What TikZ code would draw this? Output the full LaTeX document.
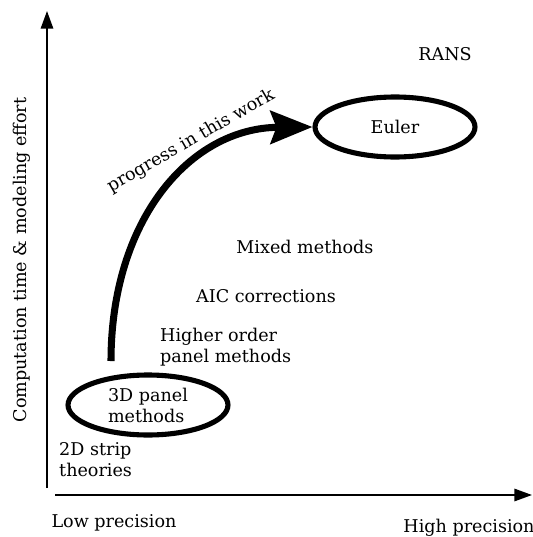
\documentclass[tikz,border=0pt]{standalone}
\usepackage{fontspec}
\setmainfont{DejaVu Serif}
\usetikzlibrary{shapes.geometric, arrows.meta}

\tikzset{
    axis/.style={line width=1.1pt, -{Stealth[length=10pt, width=7pt, inset=0pt]}},
    method/.style={font=\fontsize{10}{12}\selectfont, align=left},
    ring/.style={draw, ellipse, line width=2.9pt, minimum width=3.2cm, minimum height=1.2cm, inner sep=0pt},
}

\begin{document}
\begin{tikzpicture}[x=0.02cm, y=-0.02cm]
    \useasboundingbox (0,0) rectangle (533,537);

    % axes
    \coordinate (ybot) at (47,488);
    \coordinate (ytop) at (47,11);
    \coordinate (xleft) at (55,495);
    \coordinate (xright) at (532,495);
    \draw[axis] (ybot) -- (ytop);
    \draw[axis] (xleft) -- (xright);
    \node[method, rotate=90] (ylab) at (22,260) {Computation time \& modeling effort};
    \node[method] (low) at (114,523) {Low precision};
    \node[method] (high) at (469,528) {High precision};

    % methods, cheap to expensive
    \node[method, anchor=west] (strip) at (53,460) {2D strip\\theories};
    \node[ring, method] (panel) at (148,405) {3D panel\\methods};
    \node[method, anchor=west] (higher) at (154,347) {Higher order\\panel methods};
    \node[method] (aic) at (266,296) {AIC corrections};
    \node[method] (mixed) at (305,247) {Mixed methods};
    \node[ring, method] (euler) at (395,127) {Euler};
    \node[method] (rans) at (445,54) {RANS};

    % progress arrow
    \coordinate (start) at (111,361);
    \draw[line width=4pt, -{Stealth[length=0.84cm, width=0.66cm, inset=0.12cm]}]
        (start) .. controls (111,220) and (190,128) .. (euler.west);
    \node[method, rotate=30] (prog) at (191,141) {progress in this work};
\end{tikzpicture}
\end{document}
